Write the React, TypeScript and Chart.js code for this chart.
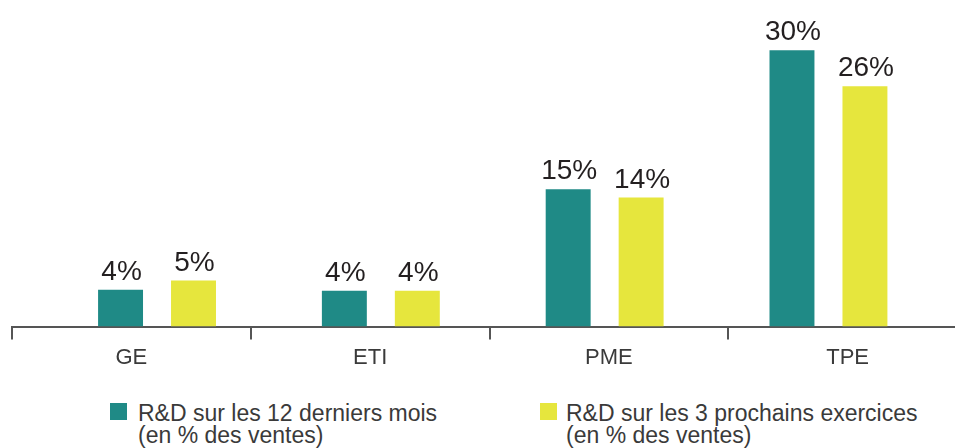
import React, { useEffect, useRef } from "react";
import { Chart, registerables } from "chart.js";

Chart.register(...registerables);

const categories = ["GE", "ETI", "PME", "TPE"];
const series12Mois = [4.0, 3.9, 14.9, 30.0];
const series3Exercices = [5.0, 3.9, 14.0, 26.1];
const legendLabels = [
  ["R&D sur les 12 derniers mois", "(en % des ventes)"],
  ["R&D sur les 3 prochains exercices", "(en % des ventes)"],
];
const colors = ["#1f8a86", "#e6e63d"];

const FONT = "'Liberation Sans', Arial, sans-serif";

const valueLabels = {
  id: "valueLabels",
  afterDatasetsDraw(chart: any) {
    const ctx = chart.ctx;
    ctx.save();
    ctx.font = `28px ${FONT}`;
    ctx.fillStyle = "#231f20";
    ctx.textAlign = "center";
    ctx.textBaseline = "alphabetic";
    chart.data.datasets.forEach((ds: any, di: number) => {
      const meta = chart.getDatasetMeta(di);
      meta.data.forEach((el: any, i: number) => {
        const v = ds.data[i].y;
        ctx.fillText(Math.round(v) + "%", el.x + 1, el.y - 10);
      });
    });
    ctx.restore();
  },
};

export default function App() {
  const ref = useRef<HTMLCanvasElement | null>(null);
  useEffect(() => {
    if (!ref.current) return;
    const chart = new Chart(ref.current, {
      type: "bar",
      data: {
        datasets: [series12Mois, series3Exercices].map((s, di) => ({
          label: legendLabels[di].join(" "),
          data: s.map((v, i) => ({ x: i, y: v })),
          backgroundColor: colors[di],
          borderWidth: 0,
          categoryPercentage: 0.652,
          barPercentage: 0.616,
          xAxisID: "x",
        })),
      },
      options: {
        animation: false,
        responsive: true,
        maintainAspectRatio: false,
        layout: { padding: { left: 12, right: 12, top: 0, bottom: 12 } },
        plugins: { legend: { display: false }, tooltip: { enabled: false } },
        scales: {
          x: {
            type: "linear",
            display: false,
            offset: false,
            grace: 0,
            min: -0.648,
            max: 3.619,
            grid: { offset: false },
            afterBuildTicks: (scale: any) => {
              scale.ticks = categories.map((_, i) => ({ value: i }));
            },
          },
          x2: {
            type: "category",
            labels: categories,
            position: "bottom",
            offset: true,
            grid: {
              offset: true,
              drawOnChartArea: false,
              drawTicks: true,
              tickLength: 13,
              color: "#555555",
              lineWidth: 2,
            },
            border: { display: true, color: "#555555", width: 2 },
            ticks: {
              font: { family: FONT, size: 22 },
              color: "#3a3a3a",
              padding: 5,
            },
          },
          y: {
            display: false,
            min: 0,
            max: 35.45,
          },
        },
      },
      plugins: [valueLabels],
    });
    return () => chart.destroy();
  }, []);

  const legendPos = [
    { sq: 110, text: 138 },
    { sq: 540, text: 566 },
  ];

  return (
    <div
      style={{
        position: "absolute",
        left: 0,
        top: 0,
        width: 955,
        height: 448,
        overflow: "hidden",
        background: "#fff",
      }}
    >
      <div style={{ position: "absolute", left: 0, top: 0, width: 979, height: 388 }}>
        <canvas ref={ref} />
      </div>
      {legendLabels.map((lines, i) => (
        <React.Fragment key={i}>
          <div
            style={{
              position: "absolute",
              left: legendPos[i].sq,
              top: 403,
              width: 17,
              height: 17,
              background: colors[i],
            }}
          />
          <div
            style={{
              position: "absolute",
              left: legendPos[i].text,
              top: 402,
              font: `23px ${FONT}`,
              lineHeight: "22px",
              color: "#3a3a3a",
              whiteSpace: "nowrap",
            }}
          >
            {lines[0]}
            <br />
            {lines[1]}
          </div>
        </React.Fragment>
      ))}
    </div>
  );
}
